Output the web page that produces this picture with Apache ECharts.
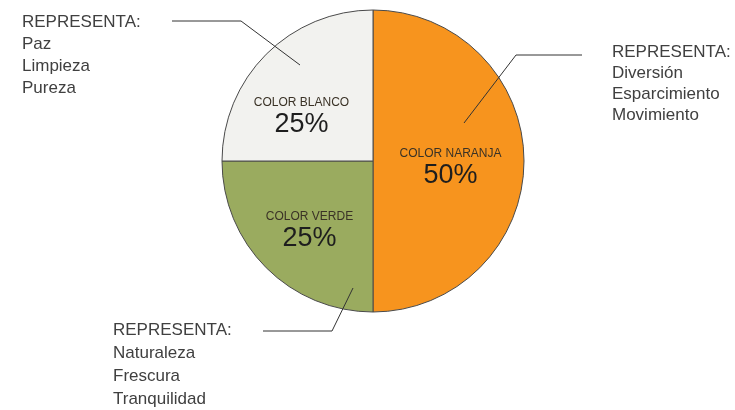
<!DOCTYPE html>
<html>
<head>
<meta charset="utf-8">
<script src="https://cdn.jsdelivr.net/npm/echarts@6/dist/echarts.min.js"></script>
<style>
  html, body { margin: 0; padding: 0; background: #fff; }
  #chart { width: 735px; height: 410px; }
</style>
</head>
<body>
<div id="chart"></div>
<script>
// datos del gráfico
const categories = ['COLOR NARANJA', 'COLOR VERDE', 'COLOR BLANCO'];
const values = [50, 25, 25];
const meanings = [
  ['Diversión', 'Esparcimiento', 'Movimiento'],
  ['Naturaleza', 'Frescura', 'Tranquilidad'],
  ['Paz', 'Limpieza', 'Pureza']
];
const colors = ['#F7941E', '#9AAB5F', '#F2F2EF'];

// desplazamiento de las etiquetas internas
const innerShift = [[-1, 7], [-8, 14], [-16, 11]];
// llamadas: punto de inicio, codo, fin de la línea, posición del texto
const callouts = [
  {line: [[464, 123], [516, 55], [582, 55]], x: 612, y: 42, lh: 21},
  {line: [[353, 288], [332, 331], [263, 331]], x: 113, y: 319, lh: 23},
  {line: [[300, 65], [241, 21], [172, 21]], x: 22, y: 11, lh: 22}
];

const chart = echarts.init(document.getElementById('chart'));

const seriesData = categories.map((name, i) => ({
  name: name,
  value: values[i],
  itemStyle: {color: colors[i]}
}));

const option = {
  backgroundColor: '#fff',
  animation: false,
  series: [
    // pastel principal
    {
      type: 'pie',
      z: 2,
      center: [373, 161],
      radius: 151,
      startAngle: 90,
      clockwise: true,
      silent: true,
      itemStyle: {borderColor: '#4a4a4a', borderWidth: 1},
      label: {
        show: true,
        position: 'inside',
        formatter: (p) => `{a|${p.name}}\n{b|${p.value}%}`,
        rich: {
          a: {fontFamily: 'Liberation Sans', fontSize: 12, color: '#3a3226', lineHeight: 16, align: 'center'},
          b: {fontFamily: 'Liberation Sans', fontSize: 27, color: '#1e1e1e', lineHeight: 28, align: 'center'}
        }
      },
      labelLayout: (p) => ({dx: innerShift[p.dataIndex][0], dy: innerShift[p.dataIndex][1]}),
      data: seriesData
    },
    // llamadas con el significado
    {
      type: 'pie',
      z: 5,
      center: [373, 161],
      radius: 151,
      startAngle: 90,
      clockwise: true,
      silent: true,
      itemStyle: {color: 'transparent', borderWidth: 0},
      label: {
        show: true,
        position: 'outside',
        color: '#404040',
        fontFamily: 'Liberation Sans',
        fontSize: 17,
        formatter: (p) => ['REPRESENTA:'].concat(meanings[p.dataIndex]).join('\n')
      },
      labelLine: {show: true, lineStyle: {color: '#333', width: 1}},
      labelLayout: (p) => {
        const c = callouts[p.dataIndex];
        return {
          x: c.x,
          y: c.y,
          align: 'left',
          verticalAlign: 'top',
          labelLinePoints: c.line
        };
      },
      data: categories.map((name, i) => ({name: name, value: values[i]}))
    }
  ]
};

// interlineado por llamada
option.series[1].data.forEach((d, i) => {
  d.label = {lineHeight: callouts[i].lh};
});

chart.setOption(option);
</script>
</body>
</html>
